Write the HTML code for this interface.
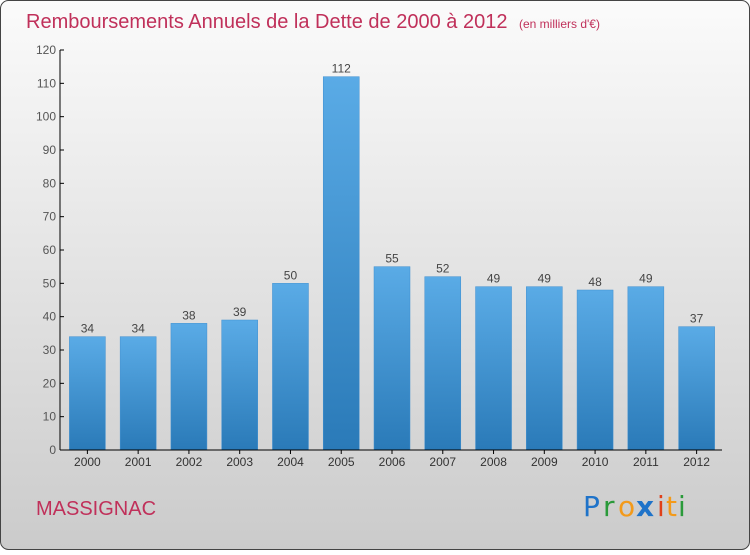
<!DOCTYPE html>
<html><head><meta charset="utf-8"><style>
html,body{margin:0;padding:0;}
body{width:750px;height:550px;overflow:hidden;font-family:"Liberation Sans",sans-serif;}
</style></head><body>
<svg id="chart" width="750" height="550" xmlns="http://www.w3.org/2000/svg">
<defs>
<linearGradient id="bg" x1="0" y1="0" x2="0" y2="1"><stop offset="0" stop-color="#fbfbfb"/><stop offset="1" stop-color="#cbcbcb"/></linearGradient>
<linearGradient id="bar" x1="0" y1="0" x2="0" y2="1"><stop offset="0" stop-color="#5aabe6"/><stop offset="1" stop-color="#2a7ab8"/></linearGradient>
</defs>
<rect x="0.5" y="0.5" width="749" height="549" rx="8" fill="url(#bg)" stroke="#444"/>
<text x="26" y="28" font-size="20" fill="#c0305a">Remboursements Annuels de la Dette de 2000 à 2012 <tspan font-size="12" dx="6">(en milliers d'€)</tspan></text>
<g id="yaxis"></g>
<g id="bars"></g>
<g id="xaxis"></g>
<text x="36" y="515" font-size="20" fill="#c0305a">MASSIGNAC</text>
<g font-size="28" font-family="'DejaVu Sans',sans-serif">
<text x="583" y="516" fill="#1f73c9">P</text><text x="603" y="516" fill="#2a9a3a">r</text><text x="618" y="516" fill="#f39a1a">o</text><text x="636" y="516" fill="#1f73c9" font-weight="bold">x</text><text x="657" y="516" fill="#e0401a">i</text><text x="666" y="516" fill="#f39a1a">t</text><text x="678" y="516" fill="#2a9a3a">i</text>
</g>
</svg>
<script>
const categories=["2000","2001","2002","2003","2004","2005","2006","2007","2008","2009","2010","2011","2012"];
const values=[34,34,38,39,50,112,55,52,49,49,48,49,37];
const yTicks=[0,10,20,30,40,50,60,70,80,90,100,110,120];
const NS="http://www.w3.org/2000/svg";
const x0=62,x1=722,y0=450,y1=50,yMax=120;
const band=(x1-x0)/categories.length;
const xc=i=>x0+band*(i+0.5);
const ys=v=>y0-(v/yMax)*(y0-y1);
function mk(t,a,p){const e=document.createElementNS(NS,t);for(const k in a)e.setAttribute(k,a[k]);p.appendChild(e);return e;}
const ya=document.getElementById('yaxis'),bg=document.getElementById('bars'),xa=document.getElementById('xaxis');
mk('line',{x1:60,y1:y1,x2:60,y2:y0,stroke:'#000'},ya);
yTicks.forEach(t=>{
 const l=mk('line',{x1:60,y1:ys(t),x2:64,y2:ys(t),stroke:'#000'},ya);
 
 
 const tx=mk('text',{x:56,y:ys(t)+4,'text-anchor':'end','font-size':12,fill:'#555'},ya);
 tx.textContent=t;
 
 
});
mk('line',{x1:60,y1:y0,x2:x1,y2:y0,stroke:'#000'},xa);
categories.forEach((c,i)=>{
 const w=36,x=xc(i)-w/2,y=ys(values[i]);
 const r=mk('rect',{x:x,y:y,width:w,height:y0-y,fill:'url(#bar)',stroke:'#3f8fd0','stroke-width':0.5},bg);
 
 
 const v=mk('text',{x:xc(i),y:y-4,'text-anchor':'middle','font-size':12,fill:'#444'},bg);
 v.textContent=values[i];
 
 
 const tk=mk('line',{x1:xc(i),y1:y0,x2:xc(i),y2:y0+4,stroke:'#000'},xa);
 
 
 const t=mk('text',{x:xc(i),y:y0+16,'text-anchor':'middle','font-size':12,fill:'#333'},xa);
 t.textContent=c;
 
 
});
</script>
</body></html>
